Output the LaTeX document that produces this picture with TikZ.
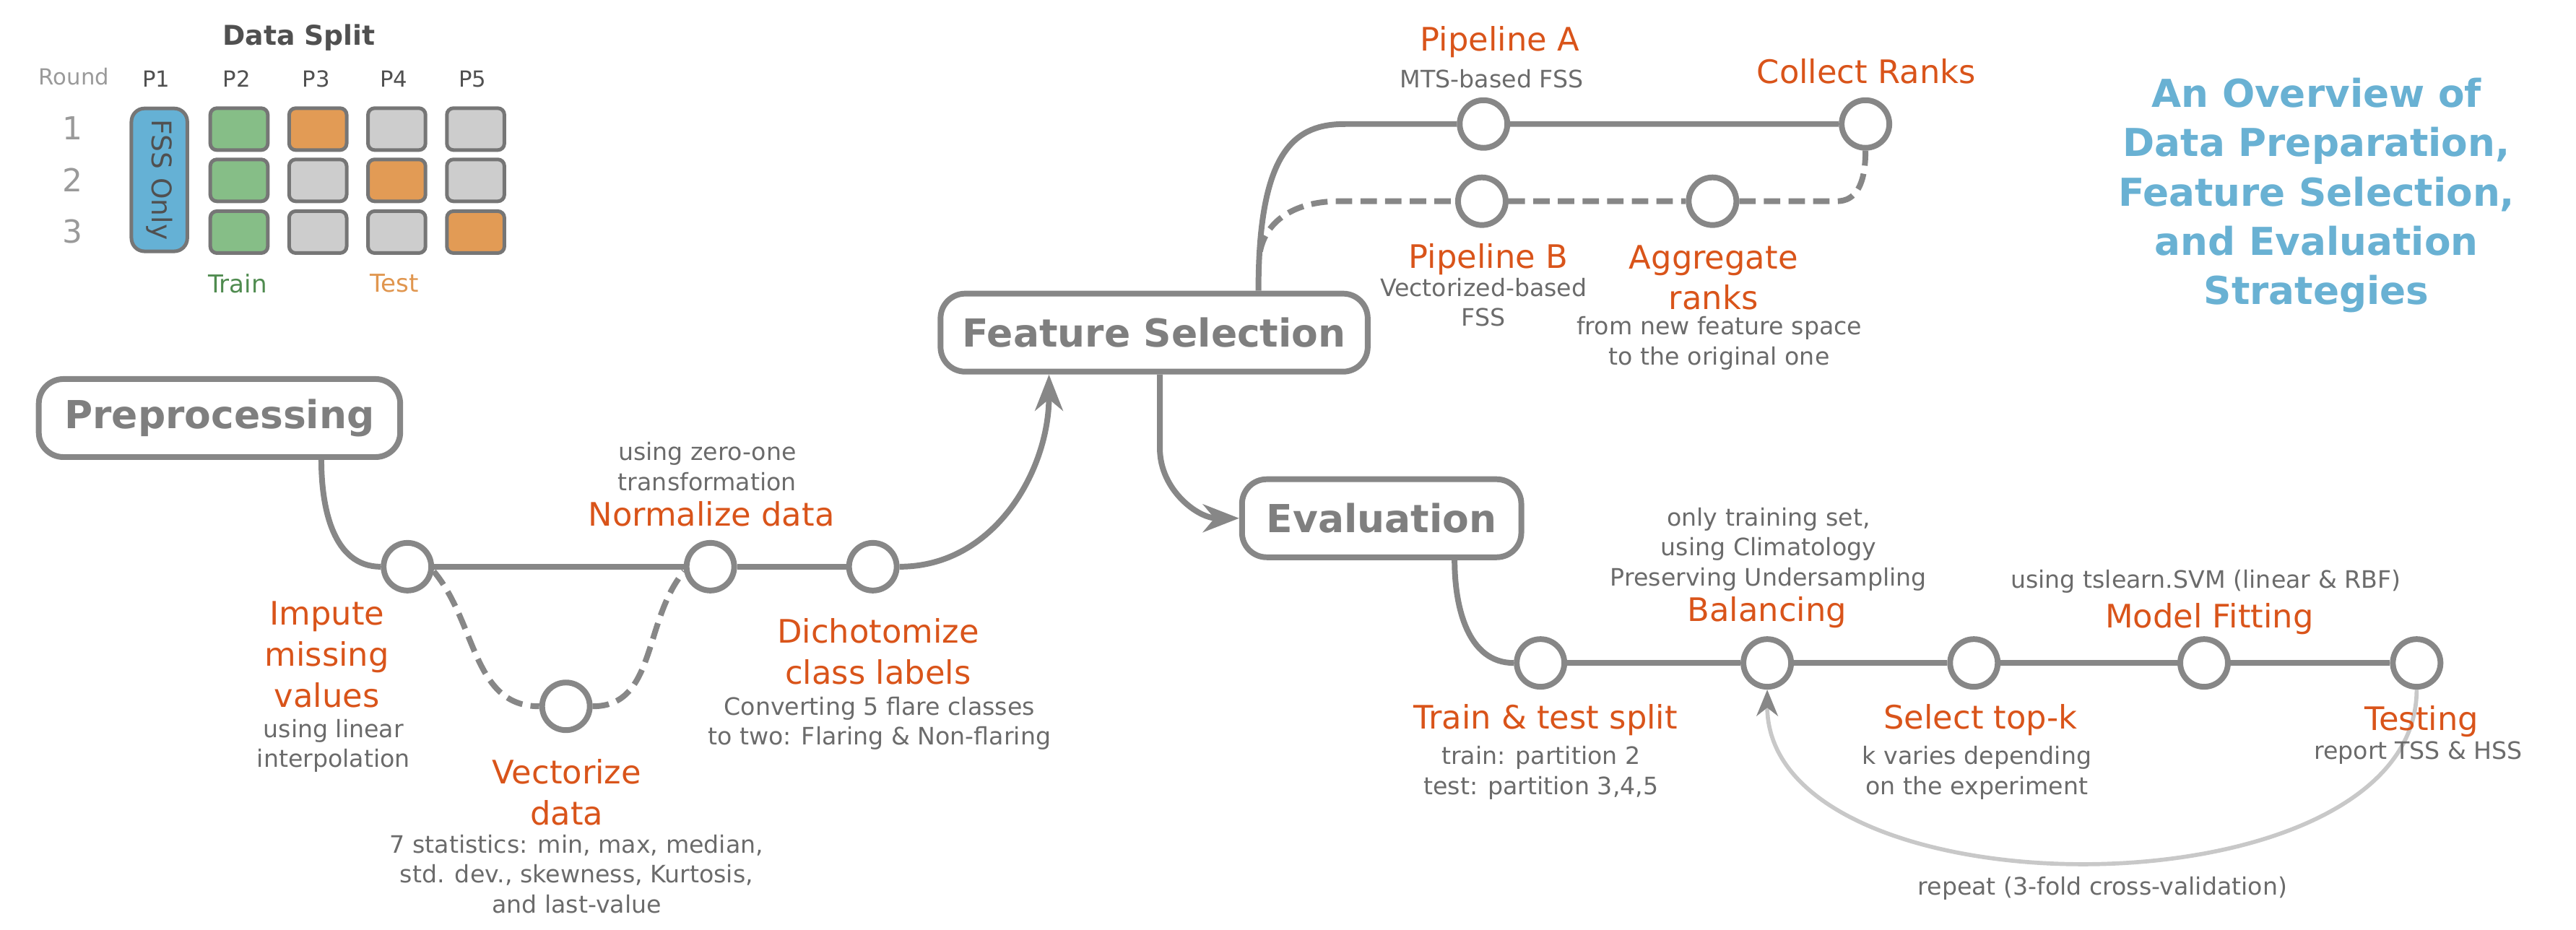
\documentclass[tikz,border=0pt]{standalone}
\usepackage{fontspec}
\setmainfont{DejaVu Sans}
\usepackage{tikz}
\usetikzlibrary{arrows.meta}
\usepackage{xcolor}

\definecolor{linegrey}{HTML}{878787}
\definecolor{boxtext}{HTML}{7F7F7F}
\definecolor{notegrey}{HTML}{6B6B6B}
\definecolor{taskorange}{HTML}{D9541A}
\definecolor{loopgrey}{HTML}{C8C8C8}
\definecolor{titleblue}{HTML}{69B1D3}
\definecolor{trainfill}{HTML}{86BE87}
\definecolor{testfill}{HTML}{E29B55}
\definecolor{restfill}{HTML}{CDCDCD}
\definecolor{fssfill}{HTML}{65B1D5}
\definecolor{cellline}{HTML}{767676}
\definecolor{traintext}{HTML}{4F8B4F}
\definecolor{testtext}{HTML}{E0964F}
\definecolor{roundgrey}{HTML}{9A9A9A}
\definecolor{headgrey}{HTML}{505050}

\newcommand\fnTask{\fontsize{19.7}{25}\selectfont}
\newcommand\fnNote{\fontsize{14.6}{18.2}\selectfont}
\newcommand\fnStage{\fontsize{23.5}{28}\selectfont\bfseries}
\newcommand\fnTitle{\fontsize{23.4}{30}\selectfont\bfseries}
\newcommand\fnSplit{\fontsize{16.6}{20}\selectfont\bfseries}
\newcommand\fnCol{\fontsize{13.5}{16}\selectfont}
\newcommand\fnRow{\fontsize{19.3}{23}\selectfont}
\newcommand\fnLegend{\fontsize{15}{18}\selectfont}
\newcommand\fnFss{\fontsize{16.5}{20}\selectfont}

\tikzset{
    stage/.style={draw=linegrey, line width=3.5pt, rounded corners=15pt, fill=white, text=boxtext, font=\fnStage, minimum height=47.5pt, inner sep=0pt},
    stop/.style={circle, draw=linegrey, line width=3.5pt, fill=white, minimum size=29pt, inner sep=0pt},
    task/.style={text=taskorange, font=\fnTask, align=center, inner sep=0pt},
    note/.style={text=notegrey, font=\fnNote, align=center, inner sep=0pt},
    track/.style={draw=linegrey, line width=3.5pt},
    branch/.style={track, dash pattern=on 10pt off 5pt},
    flow/.style={track, -{Stealth[length=22pt, width=17pt, inset=7pt]}},
    loopback/.style={draw=loopgrey, line width=2.5pt, -{Stealth[length=16pt, width=13pt, inset=5pt, color=linegrey]}},
    cell/.style={draw=cellline, line width=2.2pt, rounded corners=4pt, minimum width=35pt, minimum height=25.5pt, inner sep=0pt},
}

\begin{document}
\begin{tikzpicture}[x=1pt, y=1pt]
    \useasboundingbox (0,0) rectangle (1568,-566);

    \node[font=\fnSplit, text=headgrey] (dsplit) at (182,-23) {Data Split};
    \node[font=\fnCol, text=roundgrey] (round) at (45,-46.5) {Round};
    \node[font=\fnCol, text=headgrey] (p1) at (95,-48) {P1};
    \node[font=\fnCol, text=headgrey] (p2) at (144,-48) {P2};
    \node[font=\fnCol, text=headgrey] (p3) at (192.4,-48) {P3};
    \node[font=\fnCol, text=headgrey] (p4) at (239.7,-48) {P4};
    \node[font=\fnCol, text=headgrey] (p5) at (287.5,-48) {P5};
    \node[font=\fnRow, text=roundgrey] (r1) at (44,-78) {1};
    \node[font=\fnRow, text=roundgrey] (r2) at (44,-109.5) {2};
    \node[font=\fnRow, text=roundgrey] (r3) at (44,-141) {3};
    \node[cell, fill=fssfill, rounded corners=8pt, minimum width=87pt, minimum height=34pt, rotate=-90, text=headgrey, font=\fnFss] (fss) at (97,-109.5) {FSS Only};
    \node[cell, fill=trainfill] (c21) at (145.5,-78.6) {};
    \node[cell, fill=testfill] (c31) at (193.5,-78.6) {};
    \node[cell, fill=restfill] (c41) at (241.5,-78.6) {};
    \node[cell, fill=restfill] (c51) at (289.5,-78.6) {};
    \node[cell, fill=trainfill] (c22) at (145.5,-109.8) {};
    \node[cell, fill=restfill] (c32) at (193.5,-109.8) {};
    \node[cell, fill=testfill] (c42) at (241.5,-109.8) {};
    \node[cell, fill=restfill] (c52) at (289.5,-109.8) {};
    \node[cell, fill=trainfill] (c23) at (145.5,-141.3) {};
    \node[cell, fill=restfill] (c33) at (193.5,-141.3) {};
    \node[cell, fill=restfill] (c43) at (241.5,-141.3) {};
    \node[cell, fill=testfill] (c53) at (289.5,-141.3) {};
    \node[font=\fnLegend, text=traintext] (trainl) at (144.6,-172.6) {Train};
    \node[font=\fnLegend, text=testtext] (testl) at (240,-172.6) {Test};

    \node[font=\fnTitle, text=titleblue, align=center, inner sep=0pt] (title) at (1410,-119) {An Overview of\\Data Preparation,\\Feature Selection,\\and Evaluation\\Strategies};

    \node[stage, minimum width=220pt] (pp) at (133.6,-254.5) {Preprocessing};
    \node[stage, minimum width=260pt] (fs) at (702.5,-202.5) {Feature Selection};
    \node[stage, minimum width=170pt] (ev) at (841,-315.5) {Evaluation};

    \node[stop] (imp) at (248,-345) {};
    \node[stop] (norm) at (432.4,-345) {};
    \node[stop] (dich) at (531.3,-345) {};
    \node[stop] (vec) at (344.5,-430) {};
    \node[stop] (pa) at (903,-75.5) {};
    \node[stop] (cr) at (1135.5,-75.5) {};
    \node[stop] (pb) at (902,-122.5) {};
    \node[stop] (agg) at (1042.4,-122.5) {};
    \node[stop] (tr) at (937.7,-403.6) {};
    \node[stop] (bal) at (1075.7,-403.6) {};
    \node[stop] (sel) at (1201.5,-403.6) {};
    \node[stop] (mod) at (1341.6,-403.6) {};
    \node[stop] (te) at (1471,-403.6) {};

    \coordinate (abend) at (819,-75.5);
    \coordinate (bfork) at (767,-153);
    \coordinate (bbend) at (815,-122.5);
    \coordinate (cbend) at (1118,-122.5);

    \draw[track] ([xshift=62pt]pp.south) to[out=-90,in=180] (imp.west);
    \draw[track] (imp) -- (norm) (norm) -- (dich);
    \draw[branch] (imp.-10) to[out=-50,in=180] (vec.west);
    \draw[branch] (vec.east) to[out=0,in=-130] (norm.190);
    \draw[flow] (dich.east) to[out=0,in=-90] ([xshift=-64pt]fs.south);
    \draw[track] ([xshift=63.5pt]fs.north) .. controls +(0,87) and +(-30,0) .. (abend) -- (pa) (pa) -- (cr);
    \draw[branch] (bfork) .. controls +(4,20) and +(-25,0) .. (bbend) -- (pb) (pb) -- (agg) (agg) -- (cbend) .. controls +(12,0) and +(0,-20) .. (cr.south);
    \draw[flow] ([xshift=3.5pt]fs.south) -- ++(0,-45) to[out=-90,in=180] (ev.west);
    \draw[track] ([xshift=44.4pt]ev.south) to[out=-90,in=180] (tr.west);
    \draw[track] (tr) -- (bal) (bal) -- (sel) (sel) -- (mod) (mod) -- (te);
    \draw[loopback] (te.south) .. controls +(0,-140) and +(0,-140) .. (bal.south);

    \node[task] (impt) at (199,-398.4) {Impute\\missing\\values};
    \node[note] (impn) at (203,-454) {using linear\\interpolation};
    \node[task] (vect) at (345,-482.5) {Vectorize\\data};
    \node[note] (vecn) at (351,-532) {7 statistics: min, max, median,\\std. dev., skewness, Kurtosis,\\and last-value};
    \node[note] (normn) at (430.5,-284) {using zero-one\\transformation};
    \node[task] (normt) at (433,-312.7) {Normalize data};
    \node[task] (dicht) at (534.5,-396.5) {Dichotomize\\class labels};
    \node[note] (dichn) at (535.3,-440.3) {Converting 5 flare classes\\to two: Flaring \& Non-flaring};
    \node[task] (pat) at (913,-25.6) {Pipeline A};
    \node[note] (pan) at (908,-48) {MTS-based FSS};
    \node[task] (crt) at (1136,-43.6) {Collect Ranks};
    \node[task] (pbt) at (906,-158) {Pipeline B};
    \node[note] (pbn) at (903,-184) {Vectorized-based\\FSS};
    \node[task] (aggt) at (1043,-169) {Aggregate\\ranks};
    \node[note] (aggn) at (1046.5,-209) {from new feature space\\to the original one};
    \node[note] (baln) at (1076.5,-334.3) {only training set,\\using Climatology\\Preserving Undersampling};
    \node[task] (balt) at (1075.6,-372.9) {Balancing};
    \node[note] (modn) at (1342.6,-354.2) {using tslearn.SVM (linear \& RBF)};
    \node[task] (modt) at (1344.8,-376.6) {Model Fitting};
    \node[task] (trt) at (940.8,-438.4) {Train \& test split};
    \node[note] (trn) at (938,-470.5) {train: partition 2\\test: partition 3,4,5};
    \node[task] (selt) at (1205.5,-438.4) {Select top-k};
    \node[note] (seln) at (1203.3,-470.5) {k varies depending\\on the experiment};
    \node[task] (tet) at (1474,-439) {Testing};
    \node[note] (ten) at (1472,-458.5) {report TSS \& HSS};
    \node[note] (repn) at (1279.8,-541) {repeat (3-fold cross-validation)};
\end{tikzpicture}
\end{document}
